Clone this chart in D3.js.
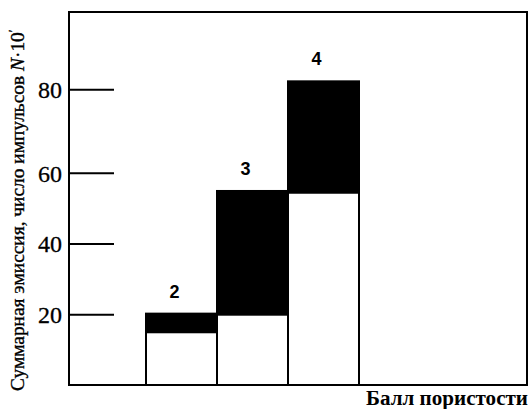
<!DOCTYPE html>
<html>
<head>
<meta charset="utf-8">
<script src="https://cdn.jsdelivr.net/npm/d3@7"></script>
<style>
  body { margin: 0; background: #fff; }
  svg { display: block; }
</style>
</head>
<body>
<svg id="chart" width="530" height="409"></svg>
<script>
'use strict';

// porosity score (bar labels)
const scores = [2, 3, 4];
// lower (white) part and total height (black top) of each bar, N·10′
const lowerValues = [15, 20, 54.5];
const totalValues = [20.3, 55, 82];
const yTicks = [20, 40, 60, 80];

const W = 530, H = 409;
const frame = { left: 69, right: 527, top: 12, bottom: 385 };
const serif = '"Liberation Serif", "DejaVu Serif", serif';

const svg = d3.select('#chart');

// the printed axis is not quite even, so use a piecewise scale
const y = d3.scaleLinear()
  .domain([0, 20, 40, 60, 80])
  .range([frame.bottom, 314.7, 244, 173.3, 89.7]);

const x = d3.scaleBand()
  .domain(scores)
  .range([146, 359])
  .padding(0);

// frame
svg.append('rect')
  .attr('x', frame.left).attr('y', frame.top)
  .attr('width', frame.right - frame.left)
  .attr('height', frame.bottom - frame.top)
  .attr('fill', 'none').attr('stroke', '#000').attr('stroke-width', 2);

// ticks (drawn inward) + labels outside the frame
const tickG = svg.append('g');
tickG.selectAll('line').data(yTicks).enter().append('line')
  .attr('x1', frame.left).attr('x2', frame.left + 45)
  .attr('y1', d => y(d)).attr('y2', d => y(d))
  .attr('stroke', '#000').attr('stroke-width', 2);
tickG.selectAll('text').data(yTicks).enter().append('text')
  .attr('x', frame.left - 7).attr('y', d => y(d))
  .attr('dy', '0.35em')
  .attr('text-anchor', 'end')
  .attr('font-family', serif)
  .attr('font-size', 24)
  .attr('stroke', '#000').attr('stroke-width', 0.3)
  .text(d => d);

// bars: white lower part, black upper part
const bars = svg.append('g');
bars.selectAll('rect.top').data(scores).enter().append('rect')
  .attr('class', 'top')
  .attr('x', d => x(d)).attr('width', x.bandwidth())
  .attr('y', (d, i) => y(totalValues[i]))
  .attr('height', (d, i) => y(lowerValues[i]) - y(totalValues[i]))
  .attr('fill', '#000').attr('stroke', '#000').attr('stroke-width', 2);
bars.selectAll('rect.low').data(scores).enter().append('rect')
  .attr('class', 'low')
  .attr('x', d => x(d)).attr('width', x.bandwidth())
  .attr('y', (d, i) => y(lowerValues[i]))
  .attr('height', (d, i) => y(0) - y(lowerValues[i]))
  .attr('fill', '#fff').attr('stroke', '#000').attr('stroke-width', 2);

// bar labels
bars.selectAll('text').data(scores).enter().append('text')
  .attr('x', d => x(d) + x.bandwidth() / 2 - 7)
  .attr('y', (d, i) => y(totalValues[i]) - 16)
  .attr('text-anchor', 'middle')
  .attr('font-family', '"Liberation Sans", Arial, sans-serif')
  .attr('font-weight', 'bold')
  .attr('font-size', 18)
  .text(d => d);

// axis titles
svg.append('text')
  .attr('x', W - 2).attr('y', 405)
  .attr('text-anchor', 'end')
  .attr('font-family', serif).attr('font-size', 20)
  .attr('font-weight', 'bold')
  .attr('textLength', 162).attr('lengthAdjust', 'spacingAndGlyphs')
  .text('Балл пористости');

const yt = svg.append('text')
  .attr('transform', `translate(24, 391) rotate(-90)`)
  .attr('text-anchor', 'start')
  .attr('font-family', serif).attr('font-size', 19.4)
  .attr('stroke', '#000').attr('stroke-width', 0.35);
yt.append('tspan').text('Суммарная эмиссия, число импульсов ');
yt.append('tspan').attr('font-style', 'italic').text('N');
yt.append('tspan').text('·10');
yt.append('tspan').attr('dy', -7).attr('font-size', 12).text('′');
</script>
</body>
</html>
